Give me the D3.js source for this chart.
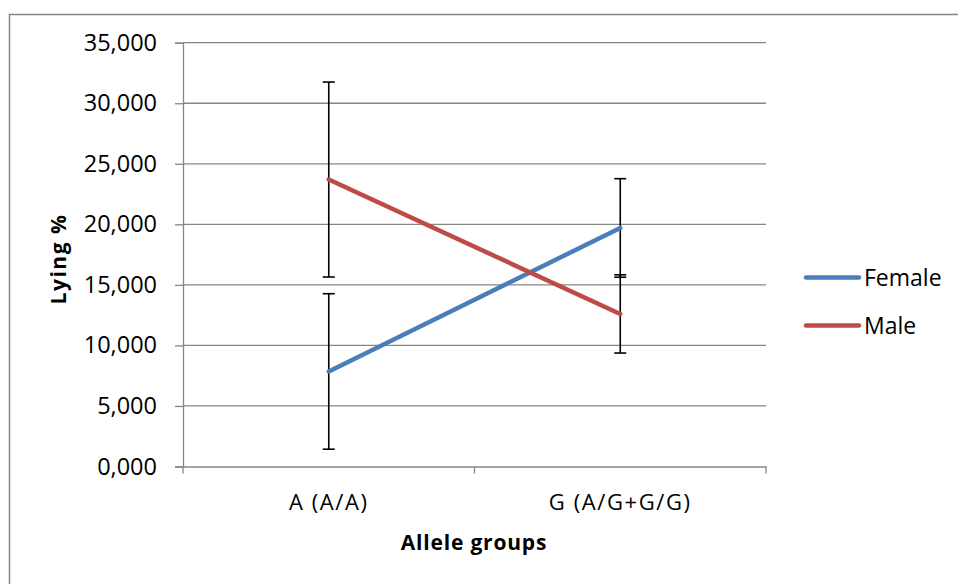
<!DOCTYPE html>
<html><head><meta charset="utf-8">
<script src="https://cdn.jsdelivr.net/npm/d3@7"></script>
<style>body{margin:0;background:#fff;} svg{display:block;} text{font-family:"Open Sans", sans-serif;fill:#000;}</style>
</head><body><svg id="c" width="958" height="584"></svg>
<script>
const categories = ["A (A/A)", "G (A/G+G/G)"];
const seriesNames = ["Female", "Male"];
const femaleValues = [7850, 19700];
const maleValues = [23700, 12600];
const femaleErrors = [6420, 4070];
const maleErrors = [8050, 3230];
const yTicks = [0, 5000, 10000, 15000, 20000, 25000, 30000, 35000];
const colors = ["#4a7ebb", "#be4b48"];

const svg = d3.select("#c");
svg.append("rect").attr("x", 9.5).attr("y", 14.5).attr("width", 1000).attr("height", 1000)
  .attr("fill", "none").attr("stroke", "#868686").attr("stroke-width", 1.5);

const L = 183, R = 766, T = 42.7, B = 466.5;
const x = d3.scaleBand().domain(categories).range([L, R]).paddingInner(0).paddingOuter(0);
const y = d3.scaleLinear().domain([0, 35000]).range([B, T]);
const tickFmt = v => v === 0 ? "0,000" : d3.format(",.0f")(v);

// gridlines
svg.append("g").selectAll("line").data(yTicks.filter(d => d > 0)).join("line")
  .attr("x1", L).attr("x2", R).attr("y1", d => y(d)).attr("y2", d => y(d))
  .attr("stroke", "#868686").attr("stroke-width", 1.3);

// y axis
const yAxis = d3.axisLeft(y).tickValues(yTicks).tickSize(8).tickPadding(18).tickFormat(tickFmt);
const gy = svg.append("g").attr("transform", `translate(${L},0)`).call(yAxis);
gy.select(".domain").attr("stroke", "#868686").attr("stroke-width", 1.3);
gy.selectAll(".tick line").attr("stroke", "#868686").attr("stroke-width", 1.3);
gy.selectAll(".tick text").style("font-size", "23.5px").style("font-family", "Open Sans").attr("fill", "#000");

// x axis
const xAxis = d3.axisBottom(x).tickSize(0).tickPadding(28);
const gx = svg.append("g").attr("transform", `translate(0,${B})`).call(xAxis);
gx.select(".domain").attr("stroke", "#868686").attr("stroke-width", 1.3);
gx.selectAll(".tick text").style("font-size", "22px").style("font-family", "Open Sans")
  .style("letter-spacing", "1.6px").attr("fill", "#000");
const bounds = [L, L + x.bandwidth(), R];
svg.append("g").selectAll("line").data(bounds).join("line")
  .attr("x1", d => d).attr("x2", d => d).attr("y1", B).attr("y2", B + 7)
  .attr("stroke", "#868686").attr("stroke-width", 1.3);

// error bars
const allSeries = [
  {name: seriesNames[0], vals: femaleValues, errs: femaleErrors, color: colors[0]},
  {name: seriesNames[1], vals: maleValues, errs: maleErrors, color: colors[1]}
];
const cx = c => x(c) + x.bandwidth() / 2;
allSeries.forEach(s => {
  const g = svg.append("g");
  categories.forEach((c, i) => {
    const v = s.vals[i], e = s.errs[i];
    g.append("line").attr("x1", cx(c)).attr("x2", cx(c)).attr("y1", y(v - e)).attr("y2", y(v + e))
      .attr("stroke", "#000").attr("stroke-width", 1.6);
    [v - e, v + e].forEach(w => g.append("line").attr("x1", cx(c) - 6).attr("x2", cx(c) + 6)
      .attr("y1", y(w)).attr("y2", y(w)).attr("stroke", "#000").attr("stroke-width", 1.6));
  });
});

// lines
const line = d3.line().x((d, i) => cx(categories[i])).y(d => y(d));
allSeries.forEach(s => {
  svg.append("path").datum(s.vals).attr("d", line).attr("fill", "none")
    .attr("stroke", s.color).attr("stroke-width", 4.5).attr("stroke-linecap", "round");
});

// legend
const legY = [277.5, 325.5];
allSeries.forEach((s, i) => {
  svg.append("line").attr("x1", 806).attr("x2", 859).attr("y1", legY[i]).attr("y2", legY[i])
    .attr("stroke", s.color).attr("stroke-width", 4.5).attr("stroke-linecap", "round");
  svg.append("text").attr("x", 864).attr("y", legY[i] + 8).style("font-size", "23px").text(s.name);
});

// axis titles
svg.append("text").attr("x", 474).attr("y", 550).attr("text-anchor", "middle")
  .style("font-size", "21px").style("font-weight", "bold").style("letter-spacing", "0.8px").text("Allele groups");
svg.append("text").attr("transform", "translate(66,259) rotate(-90)").attr("text-anchor", "middle")
  .style("font-size", "21px").style("font-weight", "bold").style("letter-spacing", "1.5px").text("Lying %");
</script></body></html>
